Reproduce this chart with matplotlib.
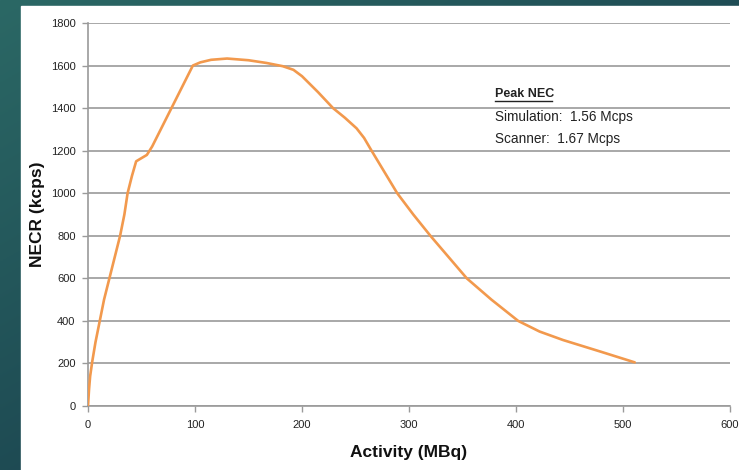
import numpy as np
import matplotlib
matplotlib.use("Agg")
import matplotlib.pyplot as plt
from matplotlib.patches import Rectangle

# NECR curve
activity = [0, 1, 2, 4, 7, 11, 15, 20, 25, 30, 34, 37, 41, 45, 50, 55, 60,
            66, 72, 78, 88, 98, 105, 115, 130, 150, 167, 182, 192, 200, 215,
            229, 240, 251, 258, 265, 277, 289, 304, 320, 337, 354, 377, 402,
            422, 444, 480, 511]
necr = [0, 80, 140, 210, 300, 400, 500, 600, 700, 800, 900, 1000, 1080, 1150,
        1165, 1180, 1220, 1280, 1340, 1400, 1500, 1600, 1615, 1627, 1633, 1625,
        1612, 1597, 1580, 1550, 1475, 1400, 1355, 1305, 1260, 1200, 1100, 1000,
        900, 800, 700, 600, 500, 400, 350, 310, 254, 205]

x_ticks = [0, 100, 200, 300, 400, 500, 600]
y_ticks = [0, 200, 400, 600, 800, 1000, 1200, 1400, 1600, 1800]

note_title = "Peak NEC"
note_lines = ["Simulation:  1.56 Mcps", "Scanner:  1.67 Mcps"]

plt.rcParams['font.family'] = ['Liberation Sans', 'DejaVu Sans']

fig = plt.figure(figsize=(7.39, 4.70), dpi=100)

# teal slide background with gradient
bg = fig.add_axes([0, 0, 1, 1])
grad = np.linspace(0, 1, 256)
gx, gy = np.meshgrid(grad, grad)
c1 = np.array([0x2b, 0x68, 0x65]) / 255
c2 = np.array([0x16, 0x38, 0x48]) / 255
t = np.clip(0.55 * gx + 0.6 * (1 - gy), 0, 1)[..., None]
bg.imshow(c1 * (1 - t) + c2 * t, extent=[0, 1, 0, 1], aspect='auto', origin='lower')
bg.add_patch(Rectangle((21 / 739, 0), 1, 1 - 6 / 470, color='white', zorder=2))
bg.set_xlim(0, 1)
bg.set_ylim(0, 1)
bg.axis('off')

ax = fig.add_axes([88 / 739, 64 / 470, 642 / 739, 383 / 470])
ax.set_facecolor('none')
ax.plot(activity, necr, color='#f2994d', lw=1.9, zorder=3,
        solid_capstyle='round', solid_joinstyle='round')

ax.set_xlim(0, 600)
ax.set_ylim(0, 1800)
ax.set_xticks(x_ticks)
ax.set_yticks(y_ticks)
ax.yaxis.grid(True, color='#a8a8a8', lw=1.4)
ax.set_axisbelow(True)
for s in ['top', 'right']:
    ax.spines[s].set_visible(False)
for s in ['left', 'bottom']:
    ax.spines[s].set_color('#9a9a9a')
    ax.spines[s].set_linewidth(1.2)
ax.tick_params(axis='both', colors='#9a9a9a', labelcolor='#222222',
               labelsize=8, length=4, width=1)
ax.tick_params(axis='y', pad=5)
ax.tick_params(axis='x', pad=6)

ax.set_xlabel("Activity (MBq)", fontsize=12.5, fontweight='bold', color='#111111',
              labelpad=11)
ax.set_ylabel("NECR (kcps)", fontsize=12.5, fontweight='bold', color='#111111',
              labelpad=4)

ax.text(380, 1452, note_title, fontsize=9, fontweight='bold', color='#222222')
ax.plot([380, 434], [1432, 1432], color='#222222', lw=1, clip_on=False)
for i, line in enumerate(note_lines):
    ax.text(380, 1338 - i * 103, line, fontsize=9.8, color='#222222')

fig.savefig("out.png", dpi=100)
